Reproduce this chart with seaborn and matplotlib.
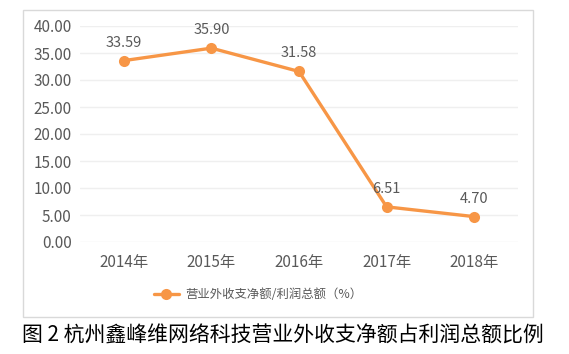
import matplotlib
matplotlib.use("Agg")
import matplotlib.pyplot as plt
import seaborn as sns
import pandas as pd
from matplotlib.patches import Rectangle

years = ["2014年", "2015年", "2016年", "2017年", "2018年"]
values = [33.59, 35.90, 31.58, 6.51, 4.70]
series_name = "营业外收支净额/利润总额（%）"
yticks = [0, 5, 10, 15, 20, 25, 30, 35, 40]
caption = "图 2 杭州鑫峰维网络科技营业外收支净额占利润总额比例"

sns.set_theme(style="white")
plt.rcParams['font.family'] = ['Noto Sans CJK SC', 'DejaVu Sans']

df = pd.DataFrame({"year": years, "value": values, "series": series_name})

fig = plt.figure(figsize=(5.69, 3.54), dpi=100)
ax = fig.add_axes([80/569, 1-242/354, 438/569, 216/354])

orange = "#F79646"
grey = "#595959"

sns.lineplot(data=df, x="year", y="value", hue="series", palette=[orange],
             marker="o", markersize=8, markeredgewidth=0, linewidth=2.4,
             sort=False, ax=ax, clip_on=False)

ax.set_xlim(-0.5, 4.5)
ax.set_ylim(0, 40)
ax.set_yticks(yticks)
ax.set_yticklabels([f"{v:.2f}" for v in yticks])
ax.grid(axis="y", color="#EFEFEF", linewidth=1)
ax.set_axisbelow(True)
for s in ax.spines.values():
    s.set_visible(False)
ax.tick_params(axis="both", length=0, labelsize=11, labelcolor=grey)
ax.tick_params(axis="y", pad=6)
ax.tick_params(axis="x", pad=9)
ax.set_xlabel("")
ax.set_ylabel("")

for i, v in enumerate(values):
    ax.annotate(f"{v:.2f}", (i, v), xytext=(0, 8), textcoords="offset points",
                ha="center", va="bottom", fontsize=10.5, color=grey)

leg = ax.legend(loc="center", bbox_to_anchor=(258/569, 1-295/354),
                bbox_transform=fig.transFigure, frameon=False,
                fontsize=8.9, handlelength=2.0, handletextpad=0.5,
                labelcolor=grey)

fig.patches.append(Rectangle((23/569, 1-317/354), 510/569, 307/354,
                             transform=fig.transFigure, fill=False,
                             edgecolor="#D9D9D9", linewidth=1))

fig.text(283/569, 1-336/354, caption, ha="center", va="center",
         fontsize=15, color="black", fontweight="light")

fig.savefig("out.png", dpi=100)
